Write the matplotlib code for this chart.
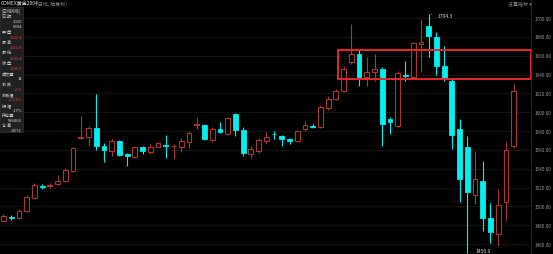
import matplotlib
matplotlib.use("Agg")
import matplotlib.pyplot as plt
from matplotlib.patches import Rectangle
import numpy as np

plt.rcParams['font.family'] = ['Noto Sans CJK SC', 'DejaVu Sans']

# daily OHLC, COMEX gold
opens = [1484.8, 1488.4, 1487.3, 1494.7, 1508.9, 1521.6, 1521.3, 1523.7, 1526.6, 1537.2,
         1572.3, 1573.3, 1583.2, 1563.8, 1559.1, 1569.4, 1555.6, 1552.1, 1562.7, 1557.4,
         1563.3, 1564.8, 1563.8, 1562.7, 1568.0, 1586.4, 1586.7, 1570.8, 1582.1, 1576.8,
         1598.1, 1581.4, 1555.6, 1559.1, 1569.7, 1577.2, 1575.0, 1571.5, 1569.7, 1582.1,
         1585.6, 1584.0, 1604.1, 1614.0, 1622.8, 1653.6, 1661.8, 1637.0, 1642.4, 1645.9,
         1592.8, 1585.7, 1639.8, 1637.0, 1672.4, 1691.8, 1679.5, 1649.4, 1633.4, 1582.1,
         1563.3, 1512.4, 1527.2, 1487.6, 1470.6, 1504.3, 1564.4]
highs = [1491.9, 1490.8, 1497.2, 1512.0, 1524.8, 1524.1, 1524.8, 1533.3, 1540.7, 1563.0,
         1596.3, 1585.6, 1619.3, 1567.0, 1571.5, 1570.5, 1556.7, 1564.1, 1564.4, 1566.2,
         1568.3, 1575.8, 1565.7, 1572.3, 1580.3, 1594.6, 1587.4, 1583.9, 1589.9, 1594.9,
         1599.1, 1583.9, 1564.4, 1572.6, 1578.6, 1580.3, 1576.3, 1572.6, 1581.6, 1590.6,
         1587.9, 1607.6, 1617.2, 1624.6, 1649.4, 1693.7, 1667.1, 1658.3, 1661.8, 1648.0,
         1594.9, 1643.7, 1654.7, 1674.5, 1699.0, 1704.3, 1685.2, 1670.6, 1635.2, 1592.8,
         1575.0, 1559.1, 1548.5, 1503.6, 1518.4, 1568.9, 1630.0]
lows = [1483.1, 1486.0, 1486.6, 1494.0, 1507.8, 1518.4, 1519.2, 1522.7, 1525.8, 1536.5,
        1571.5, 1564.4, 1559.8, 1546.8, 1553.8, 1553.5, 1543.2, 1551.3, 1555.6, 1555.6,
        1562.7, 1551.0, 1550.3, 1557.4, 1561.6, 1582.1, 1570.5, 1568.0, 1577.9, 1575.8,
        1575.0, 1553.2, 1551.0, 1556.7, 1566.2, 1571.5, 1564.4, 1566.2, 1568.3, 1580.0,
        1583.7, 1583.2, 1602.3, 1612.9, 1621.1, 1651.2, 1627.5, 1627.5, 1633.4, 1564.4,
        1576.8, 1584.3, 1633.4, 1635.2, 1642.4, 1658.6, 1639.5, 1633.1, 1560.9, 1504.3,
        1450.9, 1502.5, 1474.1, 1461.1, 1457.9, 1484.8, 1562.0]
closes = [1490.1, 1487.8, 1495.4, 1509.6, 1522.7, 1521.0, 1522.7, 1526.6, 1538.9, 1561.6,
          1574.0, 1582.9, 1564.4, 1559.8, 1569.4, 1554.5, 1553.2, 1562.7, 1559.1, 1563.3,
          1567.3, 1564.1, 1564.4, 1569.1, 1577.6, 1587.1, 1571.5, 1582.1, 1578.6, 1593.8,
          1581.4, 1556.7, 1560.9, 1570.8, 1574.0, 1576.5, 1571.5, 1569.1, 1579.7, 1586.7,
          1584.6, 1605.2, 1614.0, 1622.8, 1645.9, 1661.8, 1637.0, 1642.4, 1645.9, 1587.4,
          1589.9, 1641.6, 1638.1, 1673.2, 1674.2, 1680.6, 1649.4, 1635.2, 1576.1, 1529.0,
          1514.9, 1529.0, 1487.9, 1472.7, 1501.1, 1560.2, 1622.8]

price_ticks = [1700, 1680, 1660, 1640, 1620, 1600, 1580, 1560, 1540, 1520, 1500, 1480, 1460]

info_labels = ["日 期", "", "", "开 盘", "", "最 高", "", "最 低", "", "收 盘", "",
               "成交量", "", "涨 跌", "", "涨跌幅", "", "振 幅", "", "持仓量", "", "仓 差", ""]
info_values = ["", "2020", "0304", "", "1642.4", "", "1661.8", "", "1633.4", "", "1645.9",
               "", "14", "", "+3.5", "", "+0.21%", "", "1.7%", "", "586404", "", "-4572"]

UP = "#a8382f"
DOWN = "#00f0f0"
BG = "#000000"

W, H = 553, 255
fig = plt.figure(figsize=(W / 100, H / 100), dpi=100, facecolor=BG)
ax = fig.add_axes([0, 0, 531 / W, 1])
ax.set_facecolor(BG)

n = len(opens)
x = np.arange(n)
bw = 0.62
for i in x:
    o, h, l, c = opens[i], highs[i], lows[i], closes[i]
    up = c >= o
    col = UP if up else DOWN
    lo_b, hi_b = min(o, c), max(o, c)
    ax.vlines(i, l, lo_b, color=col, lw=0.8, zorder=3)
    ax.vlines(i, hi_b, h, color=col, lw=0.8, zorder=3)
    hgt = max(hi_b - lo_b, 0.6)
    if up:
        ax.add_patch(Rectangle((i - bw / 2, lo_b), bw, hgt, facecolor=BG,
                               edgecolor=col, lw=0.8, zorder=4))
    else:
        ax.add_patch(Rectangle((i - bw / 2, lo_b), bw, hgt, facecolor=col,
                               edgecolor=col, lw=0.6, zorder=4))

ax.set_xlim(-0.45, 68.24)
ax.set_ylim(1449.4, 1720.2)
for p in price_ticks:
    ax.axhline(p, color="#161616", lw=0.6, zorder=1)
ax.set_xticks([])
ax.set_yticks([])
for s in ax.spines.values():
    s.set_visible(False)

# highlight box around the top range
ax.add_patch(Rectangle((43.3, 1635.2), 68.24 - 43.3 - 0.05, 1665.7 - 1635.2,
                       fill=False, edgecolor="#e8262a", lw=1.4, zorder=6, clip_on=False))

# high / low marks
i_hi = int(np.argmax(highs))
i_lo = int(np.argmin(lows))
ax.annotate(f"{highs[i_hi]:.1f}", xy=(i_hi, highs[i_hi]), xytext=(i_hi + 1.1, highs[i_hi] - 1.5),
            color="#d8d8d8", fontsize=3.6, va="center", ha="left",
            arrowprops=dict(arrowstyle="-", color="#d8d8d8", lw=0.5))
ax.annotate(f"{lows[i_lo]:.1f}", xy=(i_lo, lows[i_lo]), xytext=(i_lo + 1.1, lows[i_lo] + 2.0),
            color="#d8d8d8", fontsize=3.6, va="center", ha="left",
            arrowprops=dict(arrowstyle="-", color="#d8d8d8", lw=0.5))

# right price axis
fig.add_artist(plt.Line2D([531 / W, 531 / W], [0, 1], color="#2a2a2a", lw=0.6))
for p in price_ticks:
    yf = (p - 1449.4) / (1720.2 - 1449.4)
    fig.text(535 / W, yf, f"{p:.2f}", color="#9a9a9a", fontsize=3.4, va="center", ha="left")

# title line
fig.text(1 / W, 1 - 4 / H, "COMEX黄金2004", color="#e0e0e0", fontsize=3.6, va="center", ha="left")
fig.text(36 / W, 1 - 4 / H, "(日线, 后复权)", color="#8a8a8a", fontsize=3.6, va="center", ha="left")
fig.text(508 / W, 1 - 4 / H, "设置指标 ▾", color="#8a8a8a", fontsize=3.6, va="center", ha="left")

# left info panel
fig.add_artist(Rectangle((0, 1 - 133 / H), 23 / W, 125 / H, transform=fig.transFigure,
                         facecolor="#202020", edgecolor="#3a3a3a", lw=0.4, zorder=5))
fig.text(1.5 / W, 1 - 11.5 / H, "[日线K线]", color="#d0d0d0", fontsize=3.2, va="center",
         ha="left", zorder=6)
row_h = 5.2
for k, (lab, val) in enumerate(zip(info_labels, info_values)):
    yy = 1 - (17 + k * row_h) / H
    if lab:
        fig.text(1.5 / W, yy, lab, color="#cfcfcf", fontsize=3.0, va="center", ha="left", zorder=6)
    if val:
        vc = "#e04040" if k in (4, 6, 8, 10, 14, 16) else "#cfcfcf"
        fig.text(22 / W, yy, val, color=vc, fontsize=3.0, va="center", ha="right", zorder=6)

fig.savefig("out.png", dpi=100, facecolor=BG)
